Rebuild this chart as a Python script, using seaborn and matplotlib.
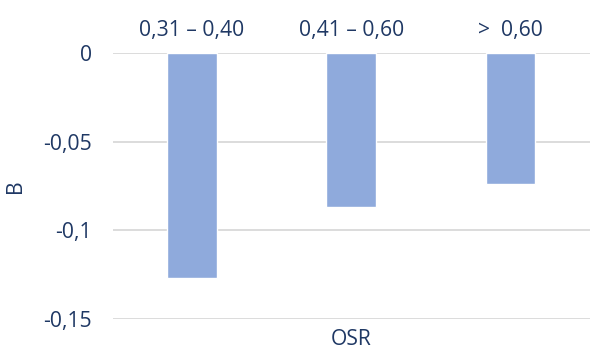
import matplotlib
matplotlib.use("Agg")
import matplotlib.pyplot as plt
import seaborn as sns
import pandas as pd
from matplotlib.ticker import FuncFormatter

categories = ["0,31 – 0,40", "0,41 – 0,60", ">  0,60"]
values = [-0.127, -0.087, -0.074]
y_ticks = [0, -0.05, -0.1, -0.15]

text_color = "#1F3864"
bar_color = "#8FAADC"
grid_color = "#D9D9D9"

sns.set_theme(style="white")
plt.rcParams["font.family"] = ["Open Sans", "DejaVu Sans"]

df = pd.DataFrame({"OSR": categories, "B": values})

fig = plt.figure(figsize=(5.9, 3.53), dpi=100)
ax = fig.add_axes([112.5 / 590, 1 - 319 / 353, (590 - 112.5) / 590, (319 - 53.3) / 353])

sns.barplot(data=df, x="OSR", y="B", color=bar_color, saturation=1,
            width=0.3125, ax=ax, zorder=3)

ax.set_xlim(-0.5, 2.5)
ax.set_ylim(-0.15, 0)
ax.set_yticks(y_ticks)

def comma_fmt(v, pos):
    if abs(v) < 1e-12:
        return "0"
    s = f"{v:.2f}".rstrip("0")
    return s.replace(".", ",")

ax.yaxis.set_major_formatter(FuncFormatter(comma_fmt))

ax.grid(axis="y", color=grid_color, linewidth=1.3, zorder=0)
ax.grid(axis="x", visible=False)
for sp in ax.spines.values():
    sp.set_visible(False)

fs = 15.2
ax.xaxis.tick_top()
ax.tick_params(axis="x", length=0, pad=9, labelsize=fs, labelcolor=text_color)
ax.tick_params(axis="y", length=0, pad=15, labelsize=fs, labelcolor=text_color)

ax.set_xlabel("OSR", fontsize=fs, color=text_color)
ax.xaxis.set_label_position("bottom")
ax.xaxis.labelpad = 7
ax.set_ylabel("B", fontsize=fs, color=text_color, labelpad=12)

fig.savefig("out.png", dpi=100)
